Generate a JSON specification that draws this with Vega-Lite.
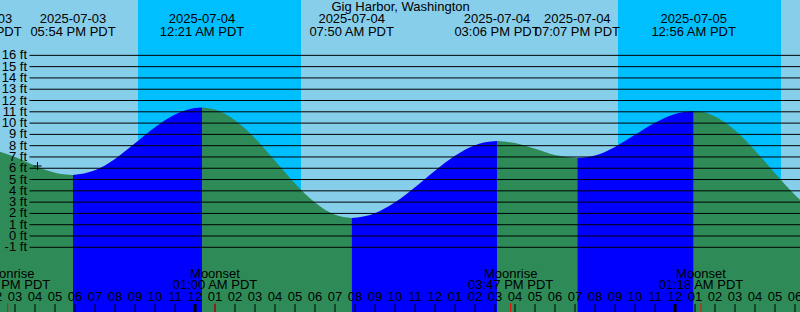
{
  "$schema": "https://vega.github.io/schema/vega-lite/v6.json",
  "width": 800,
  "height": 312,
  "autosize": "none",
  "padding": 0,
  "config": {"view": {"stroke": null}, "text": {"font": "Liberation Sans", "fontSize": 13, "color": "#000000"}},
  "datasets": {
    "sky": [
      {"start": -9.75, "end": -2.85, "period": "day"},
      {"start": -2.85, "end": 5.3, "period": "night"},
      {"start": 5.3, "end": 21.15, "period": "day"},
      {"start": 21.15, "end": 29.33, "period": "night"},
      {"start": 29.33, "end": 30.25, "period": "day"}
    ],
    "tide": [
      {"h": -9.75, "ft": 7.47, "seg": "A", "phase": "falling"},
      {"h": -9, "ft": 7.0, "seg": "A", "phase": "falling"},
      {"h": -8, "ft": 6.23, "seg": "A", "phase": "falling"},
      {"h": -7, "ft": 5.61, "seg": "A", "phase": "falling"},
      {"h": -6.1, "ft": 5.4, "seg": "A", "phase": "falling"},
      {"h": -6.1, "ft": 5.4, "seg": "B", "phase": "rising"},
      {"h": -5, "ft": 5.82, "seg": "B", "phase": "rising"},
      {"h": -4, "ft": 6.83, "seg": "B", "phase": "rising"},
      {"h": -3, "ft": 8.21, "seg": "B", "phase": "rising"},
      {"h": -2, "ft": 9.63, "seg": "B", "phase": "rising"},
      {"h": -1, "ft": 10.76, "seg": "B", "phase": "rising"},
      {"h": 0, "ft": 11.34, "seg": "B", "phase": "rising"},
      {"h": 0.35, "ft": 11.38, "seg": "B", "phase": "rising"},
      {"h": 0.35, "ft": 11.38, "seg": "C", "phase": "falling"},
      {"h": 1, "ft": 11.2, "seg": "C", "phase": "falling"},
      {"h": 2, "ft": 10.25, "seg": "C", "phase": "falling"},
      {"h": 3, "ft": 8.65, "seg": "C", "phase": "falling"},
      {"h": 4, "ft": 6.67, "seg": "C", "phase": "falling"},
      {"h": 5, "ft": 4.66, "seg": "C", "phase": "falling"},
      {"h": 6, "ft": 2.97, "seg": "C", "phase": "falling"},
      {"h": 7, "ft": 1.88, "seg": "C", "phase": "falling"},
      {"h": 7.833, "ft": 1.59, "seg": "C", "phase": "falling"},
      {"h": 7.833, "ft": 1.59, "seg": "D", "phase": "rising"},
      {"h": 9, "ft": 2.02, "seg": "D", "phase": "rising"},
      {"h": 10, "ft": 2.98, "seg": "D", "phase": "rising"},
      {"h": 11, "ft": 4.32, "seg": "D", "phase": "rising"},
      {"h": 12, "ft": 5.78, "seg": "D", "phase": "rising"},
      {"h": 13, "ft": 7.1, "seg": "D", "phase": "rising"},
      {"h": 14, "ft": 8.03, "seg": "D", "phase": "rising"},
      {"h": 14.5, "ft": 8.3, "seg": "D", "phase": "rising"},
      {"h": 15.1, "ft": 8.41, "seg": "D", "phase": "rising"},
      {"h": 15.1, "ft": 8.41, "seg": "E", "phase": "falling"},
      {"h": 16, "ft": 8.23, "seg": "E", "phase": "falling"},
      {"h": 17, "ft": 7.72, "seg": "E", "phase": "falling"},
      {"h": 18, "ft": 7.17, "seg": "E", "phase": "falling"},
      {"h": 19.117, "ft": 6.9, "seg": "E", "phase": "falling"},
      {"h": 19.117, "ft": 6.9, "seg": "F", "phase": "rising"},
      {"h": 20, "ft": 7.13, "seg": "F", "phase": "rising"},
      {"h": 21, "ft": 7.89, "seg": "F", "phase": "rising"},
      {"h": 22, "ft": 8.96, "seg": "F", "phase": "rising"},
      {"h": 23, "ft": 10.03, "seg": "F", "phase": "rising"},
      {"h": 24, "ft": 10.81, "seg": "F", "phase": "rising"},
      {"h": 24.933, "ft": 11.07, "seg": "F", "phase": "rising"},
      {"h": 24.933, "ft": 11.07, "seg": "G", "phase": "falling"},
      {"h": 25.5, "ft": 10.93, "seg": "G", "phase": "falling"},
      {"h": 26, "ft": 10.59, "seg": "G", "phase": "falling"},
      {"h": 27, "ft": 9.36, "seg": "G", "phase": "falling"},
      {"h": 28, "ft": 7.58, "seg": "G", "phase": "falling"},
      {"h": 29, "ft": 5.55, "seg": "G", "phase": "falling"},
      {"h": 30, "ft": 3.63, "seg": "G", "phase": "falling"},
      {"h": 30.25, "ft": 3.2, "seg": "G", "phase": "falling"}
    ],
    "levels": [
      {"ft": 16, "label": "16 ft"}, {"ft": 15, "label": "15 ft"}, {"ft": 14, "label": "14 ft"},
      {"ft": 13, "label": "13 ft"}, {"ft": 12, "label": "12 ft"}, {"ft": 11, "label": "11 ft"},
      {"ft": 10, "label": "10 ft"}, {"ft": 9, "label": "9 ft"}, {"ft": 8, "label": "8 ft"},
      {"ft": 7, "label": "7 ft"}, {"ft": 6, "label": "6 ft"}, {"ft": 5, "label": "5 ft"},
      {"ft": 4, "label": "4 ft"}, {"ft": 3, "label": "3 ft"}, {"ft": 2, "label": "2 ft"},
      {"ft": 1, "label": "1 ft"}, {"ft": 0, "label": "0 ft"}, {"ft": -1, "label": "-1 ft"}
    ],
    "extremes": [
      {"h": -10.8, "date": "2025-07-03", "time": "01:12 PM PDT"},
      {"h": -6.1, "date": "2025-07-03", "time": "05:54 PM PDT"},
      {"h": 0.35, "date": "2025-07-04", "time": "12:21 AM PDT"},
      {"h": 7.833, "date": "2025-07-04", "time": "07:50 AM PDT"},
      {"h": 15.1, "date": "2025-07-04", "time": "03:06 PM PDT"},
      {"h": 19.117, "date": "2025-07-04", "time": "07:07 PM PDT"},
      {"h": 24.933, "date": "2025-07-05", "time": "12:56 AM PDT"}
    ],
    "moon": [
      {"h": -9.367, "event": "Moonrise", "time": "02:38 PM PDT"},
      {"h": 1.0, "event": "Moonset", "time": "01:00 AM PDT"},
      {"h": 15.783, "event": "Moonrise", "time": "03:47 PM PDT"},
      {"h": 25.3, "event": "Moonset", "time": "01:18 AM PDT"}
    ],
    "hours": [
      {"h": -10, "label": "02"}, {"h": -9, "label": "03"}, {"h": -8, "label": "04"}, {"h": -7, "label": "05"},
      {"h": -6, "label": "06"}, {"h": -5, "label": "07"}, {"h": -4, "label": "08"}, {"h": -3, "label": "09"},
      {"h": -2, "label": "10"}, {"h": -1, "label": "11"}, {"h": 0, "label": "12"}, {"h": 1, "label": "01"},
      {"h": 2, "label": "02"}, {"h": 3, "label": "03"}, {"h": 4, "label": "04"}, {"h": 5, "label": "05"},
      {"h": 6, "label": "06"}, {"h": 7, "label": "07"}, {"h": 8, "label": "08"}, {"h": 9, "label": "09"},
      {"h": 10, "label": "10"}, {"h": 11, "label": "11"}, {"h": 12, "label": "12"}, {"h": 13, "label": "01"},
      {"h": 14, "label": "02"}, {"h": 15, "label": "03"}, {"h": 16, "label": "04"}, {"h": 17, "label": "05"},
      {"h": 18, "label": "06"}, {"h": 19, "label": "07"}, {"h": 20, "label": "08"}, {"h": 21, "label": "09"},
      {"h": 22, "label": "10"}, {"h": 23, "label": "11"}, {"h": 24, "label": "12"}, {"h": 25, "label": "01"},
      {"h": 26, "label": "02"}, {"h": 27, "label": "03"}, {"h": 28, "label": "04"}, {"h": 29, "label": "05"},
      {"h": 30, "label": "06"}
    ],
    "days": [
      {"h": 0, "date": "2025-07-04"},
      {"h": 24, "date": "2025-07-05"}
    ],
    "now": [
      {"h": -7.875, "ft": 6.2}
    ]
  },
  "resolve": {"scale": {"color": "independent"}},
  "layer": [
    {
      "data": {"name": "sky"},
      "mark": {"type": "rect", "clip": true},
      "encoding": {
        "x": {"field": "start", "type": "quantitative", "scale": {"domain": [-9.75, 30.25], "nice": false, "zero": false}, "axis": null},
        "x2": {"field": "end"},
        "color": {"field": "period", "type": "nominal", "scale": {"domain": ["day", "night"], "range": ["#87ceeb", "#00bfff"]}, "legend": null}
      }
    },
    {
      "data": {"name": "tide"},
      "mark": {"type": "area", "interpolate": "monotone", "clip": true, "opacity": 1},
      "encoding": {
        "x": {"field": "h", "type": "quantitative", "scale": {"domain": [-9.75, 30.25], "nice": false, "zero": false}, "axis": null},
        "y": {"field": "ft", "type": "quantitative", "scale": {"domain": [-6.732, 20.903], "nice": false, "zero": false}, "axis": null},
        "y2": {"datum": -6.732},
        "detail": {"field": "seg", "type": "nominal"},
        "color": {"field": "phase", "type": "nominal", "scale": {"domain": ["rising", "falling"], "range": ["#0000ff", "#2e8b57"]}, "legend": null}
      }
    },
    {
      "data": {"name": "levels"},
      "mark": {"type": "rule", "color": "#000000", "strokeWidth": 1, "clip": true},
      "encoding": {
        "x": {"datum": -8.275, "type": "quantitative", "scale": {"domain": [-9.75, 30.25], "nice": false, "zero": false}, "axis": null},
        "x2": {"datum": 30.25},
        "y": {"field": "ft", "type": "quantitative", "scale": {"domain": [-6.732, 20.903], "nice": false, "zero": false}, "axis": null}
      }
    },
    {
      "data": {"name": "levels"},
      "mark": {"type": "text", "align": "right", "baseline": "middle", "clip": true},
      "encoding": {
        "x": {"datum": -8.4, "type": "quantitative", "scale": {"domain": [-9.75, 30.25], "nice": false, "zero": false}, "axis": null},
        "y": {"field": "ft", "type": "quantitative", "scale": {"domain": [-6.732, 20.903], "nice": false, "zero": false}, "axis": null},
        "text": {"field": "label"}
      }
    },
    {
      "data": {"values": [{"title": "Gig Harbor, Washington"}]},
      "mark": {"type": "text", "align": "center", "baseline": "alphabetic", "clip": true},
      "encoding": {
        "x": {"datum": 10.28, "type": "quantitative", "scale": {"domain": [-9.75, 30.25], "nice": false, "zero": false}, "axis": null},
        "y": {"datum": 19.9, "type": "quantitative", "scale": {"domain": [-6.732, 20.903], "nice": false, "zero": false}, "axis": null},
        "text": {"field": "title"}
      }
    },
    {
      "data": {"name": "extremes"},
      "mark": {"type": "text", "align": "center", "baseline": "alphabetic", "clip": true},
      "encoding": {
        "x": {"field": "h", "type": "quantitative", "scale": {"domain": [-9.75, 30.25], "nice": false, "zero": false}, "axis": null},
        "y": {"datum": 18.84, "type": "quantitative", "scale": {"domain": [-6.732, 20.903], "nice": false, "zero": false}, "axis": null},
        "text": {"field": "date"}
      }
    },
    {
      "data": {"name": "extremes"},
      "mark": {"type": "text", "align": "center", "baseline": "alphabetic", "clip": true},
      "encoding": {
        "x": {"field": "h", "type": "quantitative", "scale": {"domain": [-9.75, 30.25], "nice": false, "zero": false}, "axis": null},
        "y": {"datum": 17.74, "type": "quantitative", "scale": {"domain": [-6.732, 20.903], "nice": false, "zero": false}, "axis": null},
        "text": {"field": "time"}
      }
    },
    {
      "data": {"name": "moon"},
      "mark": {"type": "text", "align": "center", "baseline": "alphabetic", "clip": true},
      "encoding": {
        "x": {"field": "h", "type": "quantitative", "scale": {"domain": [-9.75, 30.25], "nice": false, "zero": false}, "axis": null},
        "y": {"datum": -3.747, "type": "quantitative", "scale": {"domain": [-6.732, 20.903], "nice": false, "zero": false}, "axis": null},
        "text": {"field": "event"}
      }
    },
    {
      "data": {"name": "moon"},
      "mark": {"type": "text", "align": "center", "baseline": "alphabetic", "clip": true},
      "encoding": {
        "x": {"field": "h", "type": "quantitative", "scale": {"domain": [-9.75, 30.25], "nice": false, "zero": false}, "axis": null},
        "y": {"datum": -4.721, "type": "quantitative", "scale": {"domain": [-6.732, 20.903], "nice": false, "zero": false}, "axis": null},
        "text": {"field": "time"}
      }
    },
    {
      "data": {"name": "hours"},
      "mark": {"type": "text", "align": "center", "baseline": "alphabetic", "clip": true},
      "encoding": {
        "x": {"field": "h", "type": "quantitative", "scale": {"domain": [-9.75, 30.25], "nice": false, "zero": false}, "axis": null},
        "y": {"datum": -5.784, "type": "quantitative", "scale": {"domain": [-6.732, 20.903], "nice": false, "zero": false}, "axis": null},
        "text": {"field": "label"}
      }
    },
    {
      "data": {"name": "hours"},
      "mark": {"type": "rule", "color": "#000000", "strokeWidth": 1, "clip": true},
      "encoding": {
        "x": {"field": "h", "type": "quantitative", "scale": {"domain": [-9.75, 30.25], "nice": false, "zero": false}, "axis": null},
        "y": {"datum": -6.023, "type": "quantitative", "scale": {"domain": [-6.732, 20.903], "nice": false, "zero": false}, "axis": null},
        "y2": {"datum": -6.732}
      }
    },
    {
      "data": {"name": "days"},
      "mark": {"type": "rule", "color": "#000000", "strokeWidth": 3, "clip": true},
      "encoding": {
        "x": {"field": "h", "type": "quantitative", "scale": {"domain": [-9.75, 30.25], "nice": false, "zero": false}, "axis": null},
        "y": {"datum": -6.023, "type": "quantitative", "scale": {"domain": [-6.732, 20.903], "nice": false, "zero": false}, "axis": null},
        "y2": {"datum": -6.732}
      }
    },
    {
      "data": {"name": "moon"},
      "mark": {"type": "rule", "color": "#ff0000", "strokeWidth": 1, "clip": true},
      "encoding": {
        "x": {"field": "h", "type": "quantitative", "scale": {"domain": [-9.75, 30.25], "nice": false, "zero": false}, "axis": null},
        "y": {"datum": -5.96, "type": "quantitative", "scale": {"domain": [-6.732, 20.903], "nice": false, "zero": false}, "axis": null},
        "y2": {"datum": -6.732}
      }
    },
    {
      "data": {"name": "now"},
      "mark": {"type": "point", "shape": "M-1,0H1M0,-1V1", "size": 64, "filled": false, "stroke": "#000000", "strokeWidth": 1, "opacity": 1, "clip": true},
      "encoding": {
        "x": {"field": "h", "type": "quantitative", "scale": {"domain": [-9.75, 30.25], "nice": false, "zero": false}, "axis": null},
        "y": {"field": "ft", "type": "quantitative", "scale": {"domain": [-6.732, 20.903], "nice": false, "zero": false}, "axis": null}
      }
    }
  ]
}
